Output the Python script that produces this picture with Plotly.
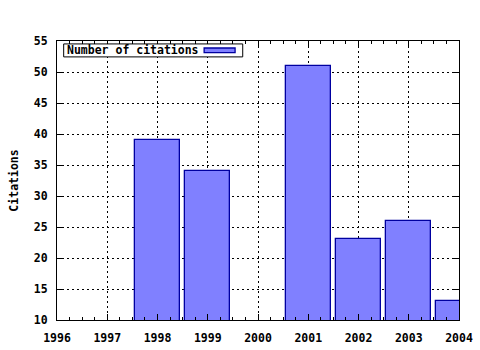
import plotly.graph_objects as go

years = [1998, 1999, 2001, 2002, 2003, 2004]
citations = [39, 34, 51, 23, 26, 13]
x_ticks = [1996, 1997, 1998, 1999, 2000, 2001, 2002, 2003, 2004]
y_ticks = [10, 15, 20, 25, 30, 35, 40, 45, 50, 55]
series_name = "Number of citations"

FONT = "DejaVu Sans Mono"
FSIZE = 11.5
BAR_FILL = "#8080ff"
BAR_LINE = "#0000a0"

fig = go.Figure()
fig.add_trace(go.Bar(
    x=years, y=citations, width=0.9, name=series_name,
    marker=dict(color=BAR_FILL, line=dict(color=BAR_LINE, width=1.3)),
    showlegend=False,
))

axis_common = dict(
    showline=True, linecolor="black", linewidth=1, mirror="allticks",
    ticks="inside", ticklen=6, tickcolor="black", tickwidth=1,
    showgrid=True, gridcolor="black", gridwidth=1, griddash="2px,3px",
    zeroline=False, automargin=False,
    tickfont=dict(family=FONT, size=FSIZE, color="black", weight="bold"),
)

fig.update_xaxes(
    range=[1996, 2004], tickvals=x_ticks, ticktext=[str(v) for v in x_ticks],
    ticklabelstandoff=7,
    minor=dict(dtick=0.25, tick0=1996, ticks="inside", ticklen=3,
               tickcolor="black", showgrid=False),
    **axis_common,
)
fig.update_yaxes(
    range=[10, 55], tickvals=y_ticks, ticktext=[str(v) for v in y_ticks],
    ticklabelstandoff=6,
    title=dict(text="Citations", font=dict(family=FONT, size=FSIZE, color="black", weight="bold"), standoff=12),
    **axis_common,
)

# gnuplot-style legend box (inside top-left)
fig.add_shape(type="rect", xref="paper", yref="paper",
              x0=0.0166, x1=0.462, y0=0.943, y1=0.9895,
              line=dict(color="black", width=1), fillcolor="white", layer="above")
fig.add_shape(type="rect", xref="paper", yref="paper",
              x0=0.366, x1=0.443, y0=0.958, y1=0.975,
              line=dict(color=BAR_LINE, width=1.3), fillcolor=BAR_FILL, layer="above")
fig.add_annotation(text=series_name, xref="paper", yref="paper",
                   x=0.02, y=0.966, xanchor="left", yanchor="middle",
                   showarrow=False,
                   font=dict(family=FONT, size=FSIZE, color="black", weight="bold"))

fig.update_layout(
    width=480, height=350,
    margin=dict(l=57, r=21, t=41, b=30, autoexpand=False),
    paper_bgcolor="white", plot_bgcolor="white",
    bargap=0,
)

fig.write_html("out.html")
